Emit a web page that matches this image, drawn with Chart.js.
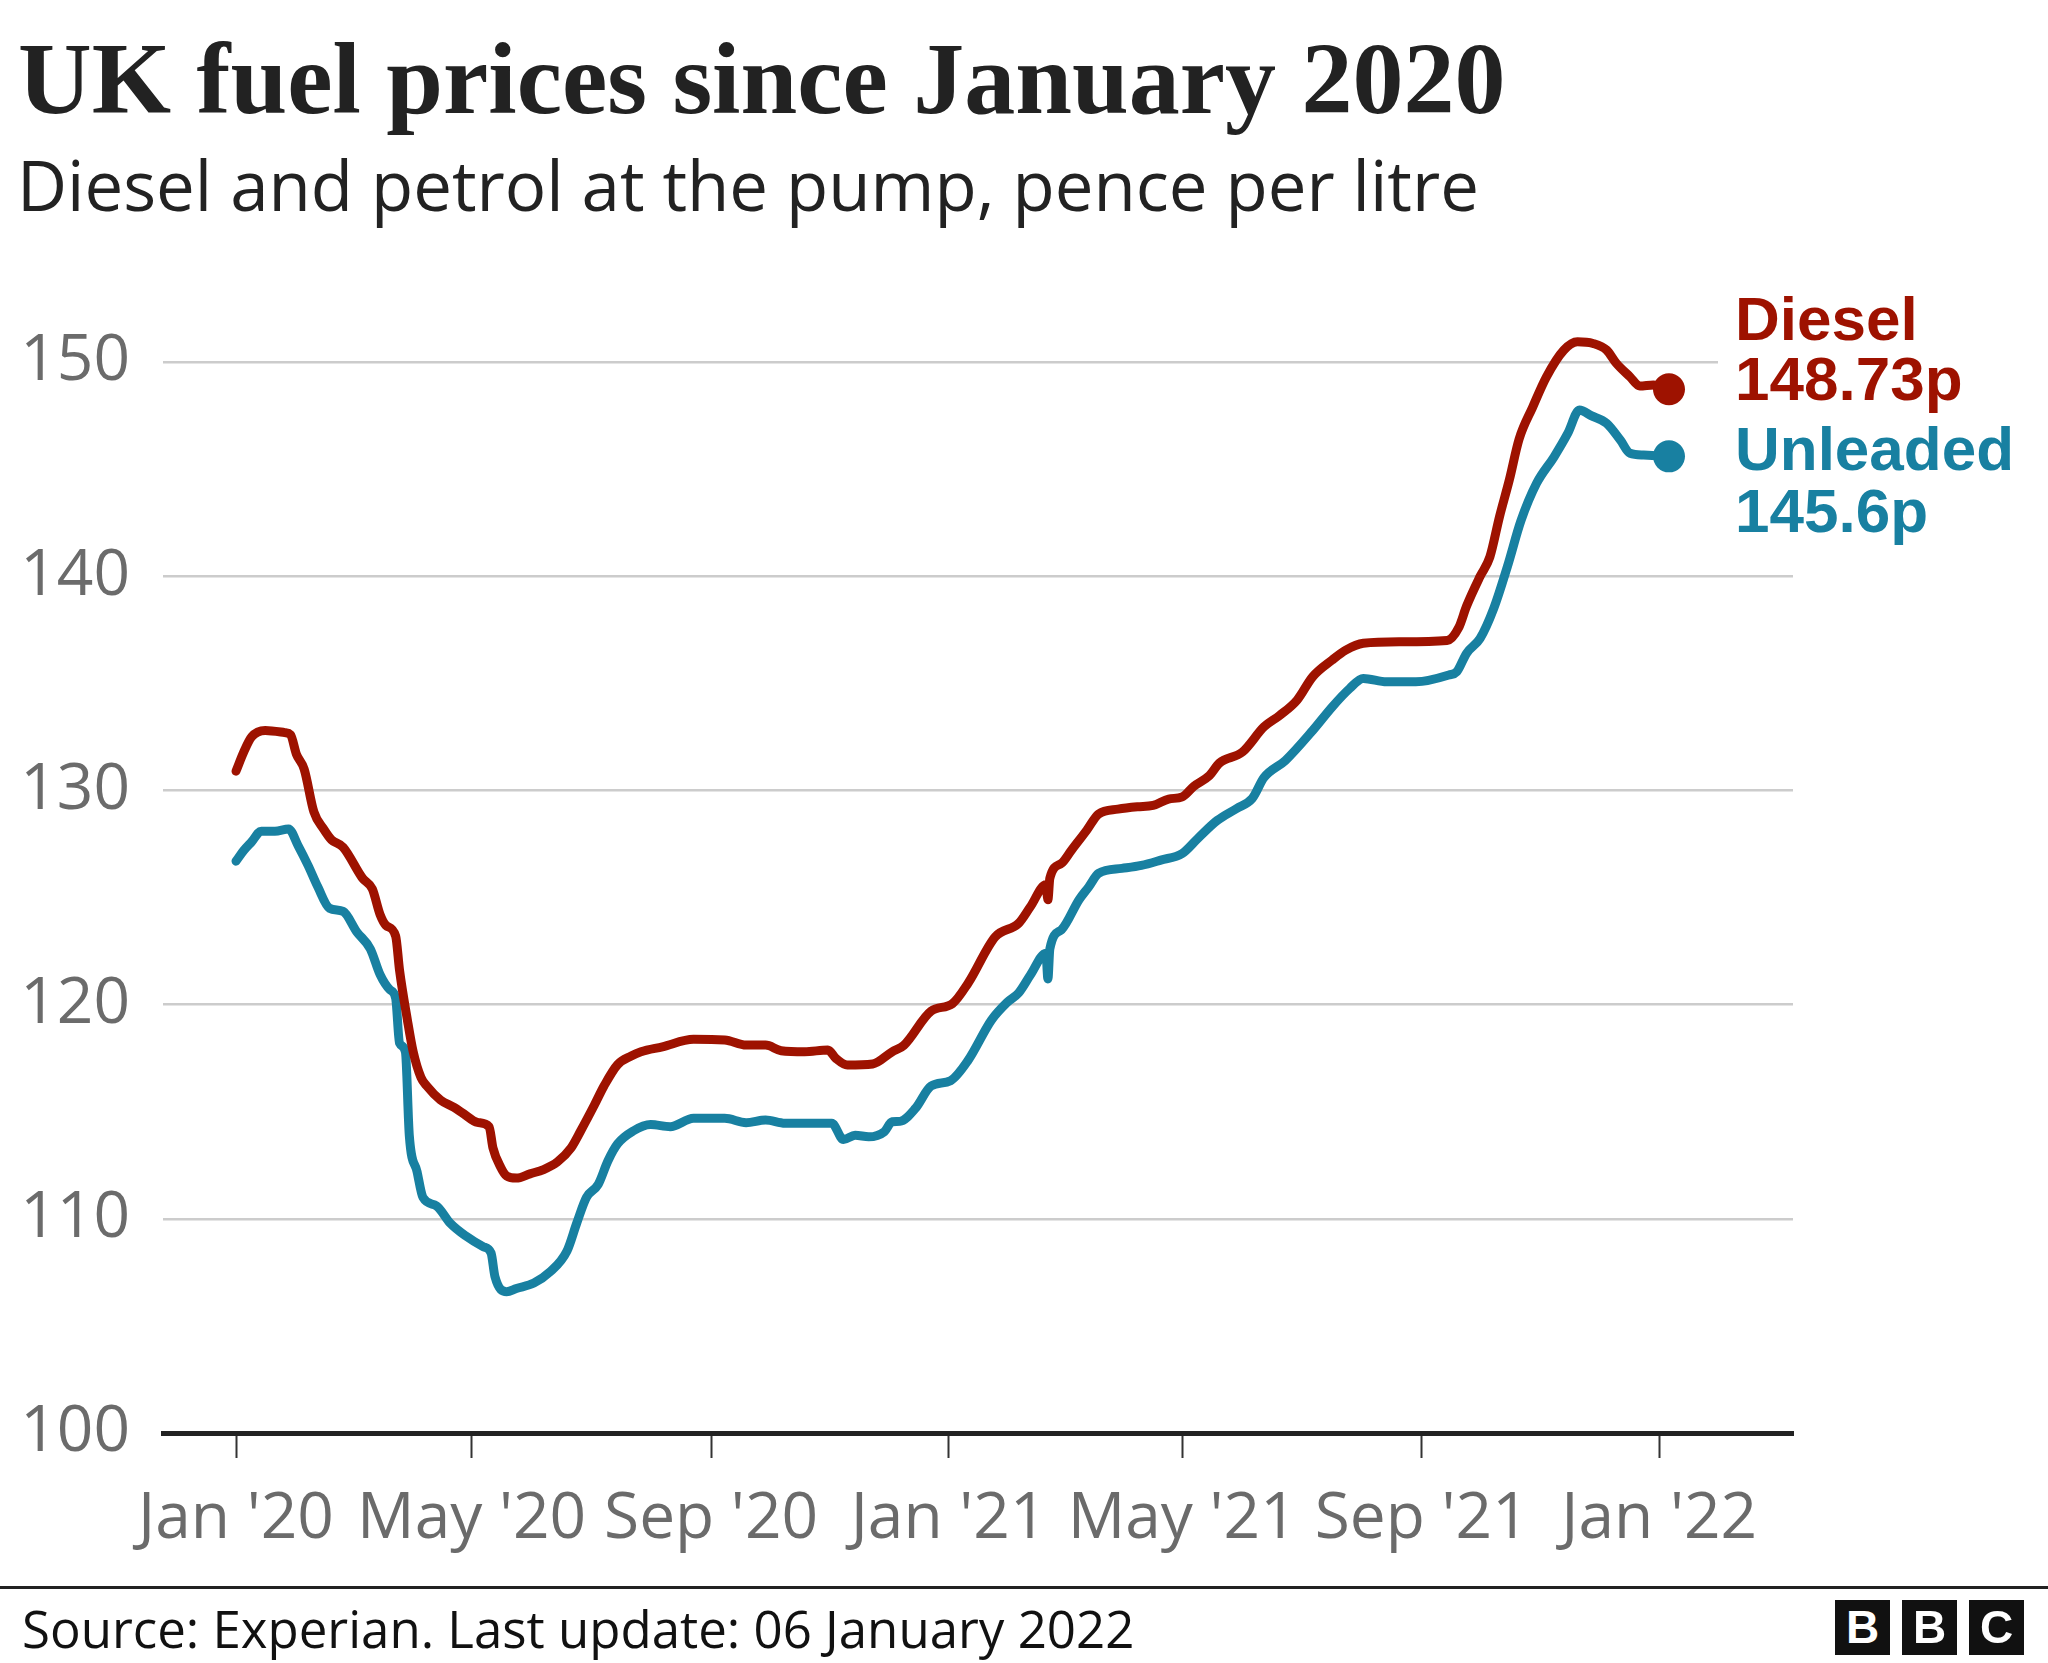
<!DOCTYPE html>
<html>
<head>
<meta charset="utf-8">
<title>UK fuel prices since January 2020</title>
<script src="https://cdn.jsdelivr.net/npm/chart.js@4.4.1/dist/chart.umd.min.js"></script>
<style>
  html, body { margin: 0; padding: 0; background: #fff; }
  body { width: 2048px; height: 1663px; position: relative; overflow: hidden; }
  #chart { position: absolute; left: 0; top: 0; }
  .txt { position: absolute; white-space: nowrap; line-height: 1; color: #222; }
  #title { left: 18px; top: 20px; font: bold 102px "Liberation Serif", serif; }
  #subtitle { left: 17px; top: 137px; font: 69px "Open Sans", sans-serif; }
  #rule { position: absolute; left: 0; top: 1586px; width: 2048px; height: 3px; background: #222; }
  #source { left: 22px; top: 1593px; font: 51px "Open Sans", sans-serif; color: #111; }
  .bbc { position: absolute; top: 1600px; width: 55px; height: 55px; background: #111; color: #fff;
         font: bold 46px "Liberation Sans", sans-serif; text-align: center; line-height: 55px; }
</style>
</head>
<body>
<canvas id="chart" width="2048" height="1663"></canvas>
<div id="title" class="txt">UK fuel prices since January 2020</div>
<div id="subtitle" class="txt">Diesel and petrol at the pump, pence per litre</div>
<div id="rule"></div>
<div id="source" class="txt">Source: Experian. Last update: 06 January 2022</div>
<div class="bbc" style="left:1835px">B</div>
<div class="bbc" style="left:1902px">B</div>
<div class="bbc" style="left:1969px">C</div>

<script>
// days counted from 1 Jan 2020
const dieselDays = [0, 4, 8, 15, 25, 28, 31, 35, 40, 45, 49, 55, 65, 70, 74, 77, 82, 84, 88, 91,
  95, 98, 105, 112, 117, 124, 130, 132, 136, 139, 144, 151, 158, 165, 172, 177, 184, 189, 196, 203,
  208, 219, 235, 251, 262, 272, 280, 292, 304, 308, 314, 327, 337, 343, 357, 368, 376, 390, 402, 408,
  416, 417, 418, 424, 429, 437, 443, 453, 463, 471, 479, 486, 492, 500, 505, 517, 528, 536, 545, 553,
  563, 570, 579, 598, 622, 628, 632, 639, 644, 649, 654, 659, 666, 673, 682, 689, 697, 704, 709, 716,
  721, 728, 736];
const dieselPence = [130.9, 131.8, 132.5, 132.8, 132.7, 132.6, 131.7, 131.0, 129.0, 128.2, 127.7, 127.35, 125.9, 125.4, 124.2, 123.7, 123.2, 121.6, 119.3, 117.8,
  116.6, 116.2, 115.55, 115.2, 114.9, 114.5, 114.3, 113.3, 112.4, 112.0, 111.9, 112.1, 112.3, 112.65, 113.3, 114.1, 115.3, 116.2, 117.2, 117.6,
  117.8, 118.03, 118.38, 118.35, 118.11, 118.11, 117.85, 117.8, 117.88, 117.5, 117.18, 117.23, 117.8, 118.1, 119.7, 120.05, 121.0, 123.17, 123.8, 124.57,
  125.6, 124.9, 125.9, 126.6, 127.2, 128.15, 128.9, 129.13, 129.24, 129.3, 129.6, 129.7, 130.2, 130.7, 131.27, 131.8, 132.97, 133.5, 134.22, 135.31,
  136.09, 136.55, 136.87, 136.94, 137.0, 137.6, 138.6, 140.0, 140.9, 142.8, 144.5, 146.4, 147.9, 149.3, 150.56, 150.95, 150.87, 150.56, 149.94, 149.31,
  148.88, 148.93, 148.73];

const unleadedDays = [0, 4, 8, 13, 20, 27, 32, 37, 42, 48, 55, 62, 69, 74, 79, 82, 84, 87, 89, 93,
  96, 103, 110, 118, 127, 131, 133, 139, 144, 153, 161, 170, 175, 180, 186, 191, 196, 204, 213, 223,
  235, 251, 262, 272, 282, 298, 306, 312, 318, 325, 333, 337, 341, 349, 357, 367, 376, 388, 396, 402,
  408, 416, 417, 418, 424, 433, 438, 443, 455, 465, 475, 486, 494, 504, 514, 522, 528, 539, 553, 563,
  572, 579, 591, 606, 623, 627, 632, 639, 646, 653, 660, 668, 677, 684, 690, 696, 704, 711, 716, 723,
  736];
const unleadedPence = [126.7, 127.2, 127.6, 128.1, 128.1, 128.2, 127.4, 126.5, 125.5, 124.5, 124.35, 123.4, 122.6, 121.4, 120.7, 120.3, 118.2, 117.8, 113.9, 112.2,
  111.0, 110.6, 109.8, 109.2, 108.7, 108.4, 107.3, 106.6, 106.75, 107.0, 107.5, 108.5, 109.8, 111.0, 111.6, 112.7, 113.5, 114.1, 114.4, 114.3,
  114.69, 114.69, 114.49, 114.61, 114.46, 114.46, 114.46, 113.7, 113.9, 113.83, 114.07, 114.53, 114.55, 115.16, 116.2, 116.45, 117.4, 119.28, 120.1, 120.55,
  121.38, 122.4, 121.2, 122.6, 123.5, 124.9, 125.5, 126.13, 126.36, 126.5, 126.75, 127.06, 127.76, 128.6, 129.16, 129.63, 130.6, 131.4, 132.8, 133.9,
  134.76, 135.23, 135.07, 135.07, 135.39, 135.54, 136.4, 137.1, 138.5, 140.45, 142.6, 144.34, 145.58, 146.67, 147.76, 147.5, 147.14, 146.36, 145.74, 145.66,
  145.6];

const tickDays = [0, 121, 244, 366, 486, 609, 731];
const tickLabels = ["Jan '20", "May '20", "Sep '20", "Jan '21", "May '21", "Sep '21", "Jan '22"];
const yTicks = [100, 110, 120, 130, 140, 150];
const seriesNames = ['Diesel', 'Unleaded'];
const endValues = ['148.73p', '145.6p'];

const RED = '#9e1200';
const TEAL = '#1880a1';

function toPoints(days, vals) {
  return days.map((d, i) => ({ x: d, y: vals[i] }));
}

function lastDot(n) {
  return ctx => ctx.dataIndex === n - 1 ? 16 : 0;
}

const endLabels = {
  id: 'endLabels',
  afterDatasetsDraw(chart) {
    const { ctx, chartArea, scales: { y } } = chart;
    ctx.save();
    // the 150 gridline stops short of the labels
    const g = y.getPixelForValue(150);
    ctx.fillStyle = '#fff';
    ctx.fillRect(chartArea.right - 75, g - 3, 80, 6);

    const lx = chartArea.right - 58;
    ctx.font = 'bold 62px "Liberation Sans", Arial, sans-serif';
    ctx.textAlign = 'left';
    ctx.textBaseline = 'alphabetic';

    const dY = y.getPixelForValue(dieselPence[dieselPence.length - 1]);
    ctx.fillStyle = RED;
    ctx.fillText(seriesNames[0], lx, dY - 49);
    ctx.fillText(endValues[0], lx, dY + 11);

    const uY = y.getPixelForValue(unleadedPence[unleadedPence.length - 1]);
    ctx.fillStyle = TEAL;
    ctx.fillText(seriesNames[1], lx, uY + 14);
    ctx.fillText(endValues[1], lx, uY + 76);
    ctx.restore();
  }
};

const ctx = document.getElementById('chart').getContext('2d');
new Chart(ctx, {
  type: 'line',
  data: {
    datasets: [
      {
        label: seriesNames[0],
        data: toPoints(dieselDays, dieselPence),
        borderColor: RED,
        backgroundColor: RED,
        borderWidth: 9,
        pointRadius: lastDot(dieselDays.length),
        pointBorderWidth: 0,
        pointHoverRadius: 0,
        cubicInterpolationMode: 'monotone',
        borderJoinStyle: 'round',
        borderCapStyle: 'round'
      },
      {
        label: seriesNames[1],
        data: toPoints(unleadedDays, unleadedPence),
        borderColor: TEAL,
        backgroundColor: TEAL,
        borderWidth: 9,
        pointRadius: lastDot(unleadedDays.length),
        pointBorderWidth: 0,
        pointHoverRadius: 0,
        cubicInterpolationMode: 'monotone',
        borderJoinStyle: 'round',
        borderCapStyle: 'round'
      }
    ]
  },
  options: {
    responsive: false,
    animation: false,
    layout: { padding: { left: 20, right: 255, top: 255, bottom: 0 } },
    plugins: {
      legend: { display: false },
      tooltip: { enabled: false }
    },
    scales: {
      x: {
        type: 'linear',
        min: -37.5,
        max: 799.7,
        afterBuildTicks: s => { s.ticks = tickDays.map(v => ({ value: v })); },
        afterFit: s => { s.height = 230; },
        grid: { drawOnChartArea: false, drawTicks: true, tickLength: 25, tickWidth: 2, tickColor: '#333' },
        border: { display: true, width: 5, color: '#222' },
        ticks: {
          autoSkip: false,
          maxRotation: 0,
          padding: 23,
          color: '#6b6b6b',
          font: { family: '"Open Sans", sans-serif', size: 64 },
          callback: (v, i) => tickLabels[i]
        }
      },
      y: {
        min: 100,
        max: 155,
        afterBuildTicks: s => { s.ticks = yTicks.map(v => ({ value: v })); },
        afterFit: s => { s.width = 143; },
        grid: {
          color: c => (c.tick && c.tick.value === 100) ? 'rgba(0,0,0,0)' : '#cccccc',
          lineWidth: 2.5,
          drawTicks: false
        },
        border: { display: false },
        ticks: {
          padding: 33,
          color: '#6b6b6b',
          font: { family: '"Open Sans", sans-serif', size: 64 },
          callback: v => v
        }
      }
    }
  },
  plugins: [endLabels]
});
</script>
</body>
</html>
